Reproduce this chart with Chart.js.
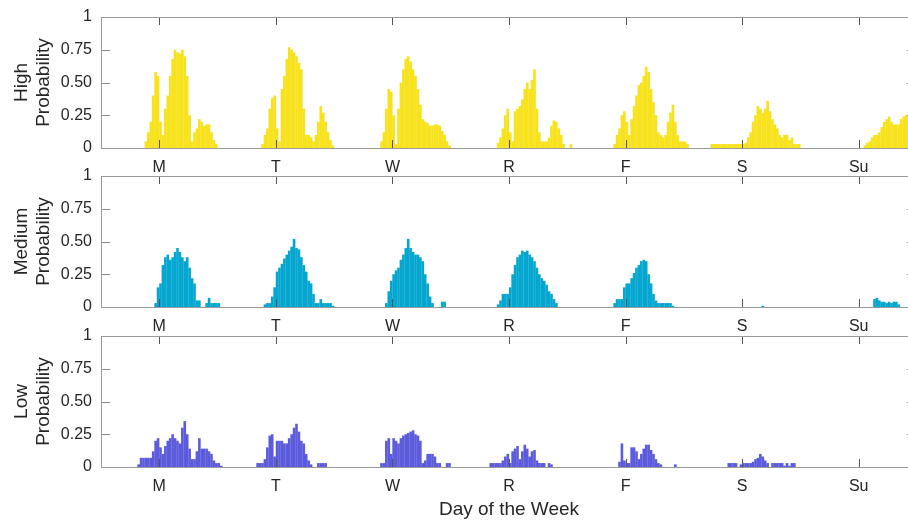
<!DOCTYPE html>
<html>
<head>
<meta charset="utf-8">
<script src="https://cdn.jsdelivr.net/npm/chart.js@4.4.0/dist/chart.umd.min.js"></script>
<style>
  html, body { margin: 0; padding: 0; background: #fff; overflow: hidden; }
  #wrap { position: relative; width: 908px; height: 521px; overflow: hidden; background: #fff; }
  #wrap canvas { position: absolute; left: 0; top: 0; }
</style>
</head>
<body>
<div id="wrap">
  <canvas id="c-high" width="920" height="521"></canvas>
  <canvas id="c-med" width="920" height="521"></canvas>
  <canvas id="c-low" width="920" height="521"></canvas>
</div>
<script>
// Day ticks sit at noon of each day, hours counted from Monday 00:00
const dayLabels = ['M', 'T', 'W', 'R', 'F', 'S', 'Su']
const dayTickHours = [12, 36, 60, 84, 108, 132, 156]
const yTicks = [0, 0.25, 0.5, 0.75, 1]
const yTickLabels = ['0', '0.25', '0.50', '0.75', '1']
const binHours = 0.5

// Half-hour bins, 48 per day, one line per day (M .. Su)
const highProb = [
  0,0,0,0,0,0,0,0,0,0,0,0, 0,0,0,0,0,0,.05,.12,.2,.4,.58,.55, .2,.1,.3,.4,.55,.68,.75,.73,.72,.75,.7,.55, .25,.05,.12,.15,.22,.2,.17,.18,.18,.12,.06,.03,
  0,0,0,0,0,0,0,0,0,0,0,0, 0,0,0,0,0,0,.03,.1,.15,.3,.38,.4, .15,.05,.45,.55,.68,.77,.75,.73,.7,.65,.6,.3, .1,.1,.08,.05,.1,.2,.32,.27,.2,.12,.06,.02,
  0,0,0,0,0,0,0,0,0,0,0,0, 0,0,0,0,0,0,0,.05,.12,.3,.45,.43, .25,.03,.3,.5,.6,.68,.7,.66,.6,.55,.45,.33, .22,.2,.19,.17,.17,.18,.18,.17,.13,.1,.05,.02,
  0,0,0,0,0,0,0,0,0,0,0,0, 0,0,0,0,0,0,0,.04,.08,.15,.25,.3, .12,.05,.28,.3,.32,.37,.45,.5,.45,.52,.6,.3, .12,.05,.05,.05,.08,.17,.21,.2,.15,.1,.03,0,
  0,.03,0,0,0,0,0,0,0,0,0,0, 0,0,0,0,0,0,0,.03,.1,.15,.25,.28, .2,.1,.22,.32,.4,.48,.5,.55,.62,.58,.45,.35, .25,.12,.1,.08,.1,.2,.27,.33,.2,.1,.05,.05,
  .05,.03,0,0,0,0,0,0,0,0,0,.03, .03,.03,.03,.03,.03,.03,.03,.03,.03,.03,.03,.03, .03,.04,.08,.12,.2,.25,.32,.3,.27,.3,.36,.28, .22,.18,.15,.1,.08,.1,.1,.06,.08,.03,.03,.03,
  0,0,0,0,0,0,0,0,0,0,0,0, 0,0,0,0,0,0,0,0,0,0,0,0, 0,0,.02,.04,.05,.08,.1,.1,.12,.16,.2,.22, .24,.2,.18,.18,.18,.22,.24,.25,.25,.22,.2,.15
]

const mediumProb = [
  0,0,0,0,0,0,0,0,0,0,0,0, 0,0,0,0,0,0,0,0,0,0,.03,.15, .18,.32,.38,.4,.36,.38,.42,.45,.42,.38,.35,.38, .3,.22,.18,.05,.05,0,0,.03,.07,.03,.03,.03,
  .03,0,0,0,0,0,0,0,0,0,0,0, 0,0,0,0,0,0,0,.02,.03,.03,.08,.15, .27,.3,.33,.37,.4,.43,.46,.52,.45,.44,.38,.32, .27,.2,.18,.1,.03,.03,.06,.03,.03,.03,.03,.01,
  0,0,0,0,0,0,0,0,0,0,0,0, 0,0,0,0,0,0,0,0,0,.03,.12,.2, .25,.28,.3,.36,.4,.45,.52,.45,.42,.4,.4,.38, .35,.25,.18,.08,.03,0,0,0,.04,.04,0,0,
  0,0,0,0,0,0,0,0,0,0,0,0, 0,0,0,0,0,0,0,.02,.05,.1,.1,.1, .15,.25,.32,.38,.4,.43,.42,.43,.4,.38,.35,.3, .25,.22,.2,.17,.12,.1,.06,.03,0,0,0,0,
  0,0,0,0,0,0,0,0,0,0,0,0, 0,0,0,0,0,0,0,.03,.06,.06,.06,.15, .18,.18,.22,.26,.3,.32,.35,.36,.35,.25,.18,.1, .05,.03,.03,.03,.03,.03,.03,.01,0,0,0,0,
  0,0,0,0,0,0,0,0,0,0,0,0, 0,0,0,0,0,0,0,0,0,0,0,0, 0,0,0,0,0,0,0,0,.01,0,0,0, 0,0,0,0,0,0,0,0,0,0,0,0,
  0,0,0,0,0,0,0,0,0,0,0,0, 0,0,0,0,0,0,0,0,0,0,0,0, 0,0,0,0,0,0,.06,.07,.05,.04,.04,.03, .04,.03,.04,.04,.02,0,0,0,0,0,0,0
]

const lowProb = [
  0,0,0,0,0,0,0,0,0,0,0,0, 0,0,0,.02,.07,.07,.07,.07,.07,.12,.2,.22, .15,.1,.16,.2,.22,.25,.22,.2,.18,.3,.35,.25, .14,.06,.06,.12,.22,.14,.14,.14,.12,.1,.05,.03,
  .03,.01,0,0,0,0,0,0,0,0,0,0, 0,0,0,0,.03,.03,.03,.06,.15,.24,.25,.08, .2,.2,.2,.18,.18,.22,.25,.3,.33,.27,.2,.18, .1,.05,.02,0,0,.03,.03,.03,.03,0,0,0,
  0,0,0,0,0,0,0,0,0,0,0,0, 0,0,0,0,0,0,0,.03,.03,.2,.22,.1, .22,.2,.18,.22,.24,.25,.26,.27,.28,.25,.24,.2, .03,.05,.1,.1,.1,.08,.03,.03,0,0,.03,.03,
  0,0,0,0,0,0,0,0,0,0,0,0, 0,0,0,0,.03,.03,.03,.03,.03,.05,.08,.1, .03,.12,.14,.16,.06,.12,.17,.14,.08,.12,.13,.05, .03,.03,.03,0,.03,.02,0,0,0,0,0,0,
  0,0,0,0,0,0,0,0,0,0,0,0, 0,0,0,0,0,0,0,0,0,.04,.18,.05, .03,.03,.15,.15,.12,.06,.1,.14,.17,.17,.13,.1, .06,.03,.02,0,0,0,0,0,.02,0,0,0,
  0,0,0,0,0,0,0,0,0,0,0,0, 0,0,0,0,0,0,.03,.03,.03,.03,0,.02, .03,.03,.03,.03,.04,.06,.07,.1,.08,.05,.03,0, .03,.03,.03,.03,.03,.01,.03,.01,.03,.03,0,0,
  0,0,0,0,0,0,0,0,0,0,0,0, 0,0,0,0,0,0,0,0,0,0,0,0, 0,0,0,0,0,0,0,0,0,0,0,0, 0,0,0,0,0,0,0,0,0,0,0,0
]

;[highProb, mediumProb, lowProb].forEach(a => {
    if (a.length !== 336) throw new Error('series length ' + a.length)
})

Chart.defaults.font.family = "'Liberation Sans', Arial, sans-serif"
Chart.defaults.color = '#262626'

const W = 920
const H = 521
const PLOT_LEFT = 101
const PLOT_RIGHT = 917


// Box around the axes with inward tick marks, like the original figure
const framePlugin = {
    id: 'frame',
    afterDraw(chart) {
        const { ctx, chartArea: a, scales } = chart
        ctx.save()
        ctx.lineWidth = 1

        ctx.strokeStyle = '#555'
        ctx.beginPath()
        dayTickHours.forEach(h => {
            const px = Math.round(scales.x.getPixelForValue(h)) + 0.5
            ctx.moveTo(px, a.bottom)
            ctx.lineTo(px, a.bottom - 8)
            ctx.moveTo(px, a.top)
            ctx.lineTo(px, a.top + 8)
        })
        ctx.stroke()

        ctx.strokeStyle = '#8a8a8a'
        ctx.beginPath()
        yTicks.slice(1, -1).forEach(v => {
            const py = Math.round(scales.y.getPixelForValue(v)) + 0.5
            ctx.moveTo(a.left, py)
            ctx.lineTo(a.left + 9, py)
            ctx.moveTo(a.right, py)
            ctx.lineTo(a.right - 10, py)
        })
        ctx.stroke()

        ctx.strokeStyle = '#9a9a9a'
        ctx.strokeRect(a.left + 0.5, a.top + 0.5, a.right - a.left, a.bottom - a.top)
        ctx.restore()
    }
}


function makePanel(id, values, color, label, top, bottom, xTitle) {
    const xAxisH = xTitle ? H - bottom : 28
    const points = values.map((v, i) => ({ x: i * binHours + binHours / 2, y: v }))

    return new Chart(document.getElementById(id), {
        type: 'bar',
        data: {
            datasets: [{
                data: points,
                backgroundColor: color,
                borderWidth: 0,
                barPercentage: 1.08,
                categoryPercentage: 1
            }]
        },
        options: {
            responsive: false,
            animation: false,
            devicePixelRatio: 1,
            events: [],
            layout: {
                padding: { left: 0, right: W - PLOT_RIGHT, top: top, bottom: H - bottom - xAxisH }
            },
            plugins: {
                legend: { display: false },
                tooltip: { enabled: false }
            },
            scales: {
                x: {
                    type: 'linear',
                    min: 0,
                    max: 168,
                    offset: false,
                    grid: { display: false },
                    border: { display: false },
                    afterBuildTicks: s => { s.ticks = dayTickHours.map(v => ({ value: v })) },
                    afterFit: s => { s.height = xAxisH },
                    ticks: {
                        autoSkip: false,
                        maxRotation: 0,
                        padding: 2,
                        font: { size: 16 },
                        color: '#262626',
                        callback: (v, i) => dayLabels[i]
                    },
                    title: {
                        display: !!xTitle,
                        text: xTitle || '',
                        font: { size: 19 },
                        color: '#262626',
                        padding: { top: 0, bottom: 0 }
                    }
                },
                y: {
                    min: 0,
                    max: 1,
                    grid: { display: false },
                    border: { display: false },
                    afterBuildTicks: s => { s.ticks = yTicks.map(v => ({ value: v })) },
                    afterFit: s => { s.width = PLOT_LEFT },
                    ticks: {
                        padding: 1,
                        font: { size: 16 },
                        color: '#262626',
                        callback: (v, i) => yTickLabels[i]
                    },
                    title: {
                        display: true,
                        text: [label, 'Probability'],
                        font: { size: 19 },
                        color: '#262626',
                        padding: { top: 10, bottom: 0 }
                    }
                }
            }
        },
        plugins: [framePlugin]
    })
}

makePanel('c-high', highProb, '#f7e21c', 'High', 17, 148)
makePanel('c-med', mediumProb, '#03a6cf', 'Medium', 176, 307)
makePanel('c-low', lowProb, '#5b5bdc', 'Low', 336, 467, 'Day of the Week')
</script>
</body>
</html>
